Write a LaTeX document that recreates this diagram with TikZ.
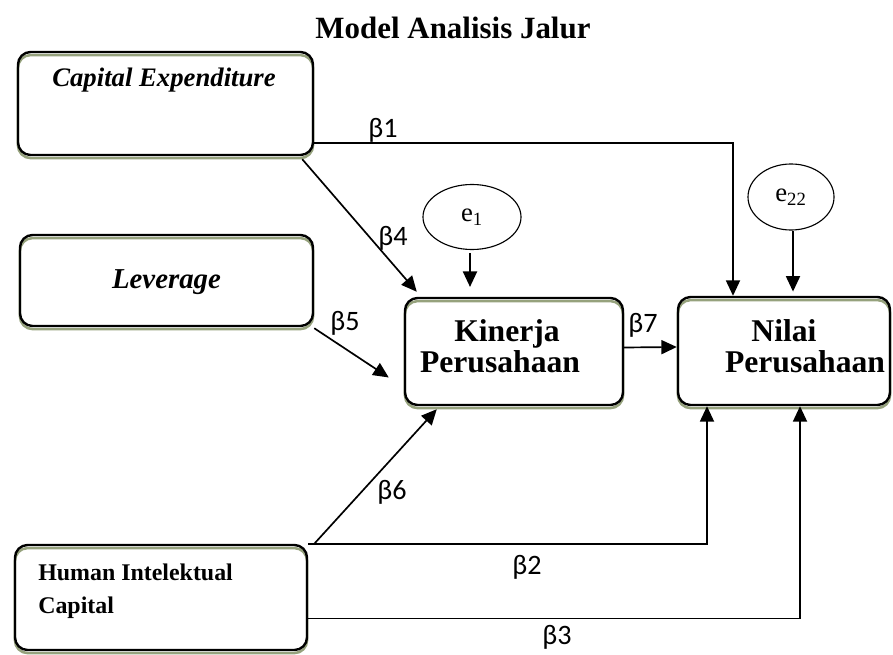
\documentclass[tikz,border=0pt]{standalone}
\usepackage{fontspec}
\setmainfont{Liberation Serif}
\newfontfamily\betafont{Carlito}
\usetikzlibrary{positioning,arrows.meta,shadows,calc,shapes.geometric}
\definecolor{boxshadow}{RGB}{150,162,125}

\begin{document}
\begin{tikzpicture}[x=0.025cm,y=-0.025cm,>={Triangle[length=11pt,width=10pt]}]
    \tikzstyle{varbox}=[draw, line width=1.7pt, rounded corners=9pt,
        general shadow={draw=boxshadow, line width=1.8pt, fill=none, shadow yshift=-2.2pt}]
    \tikzstyle{errnode}=[draw, ellipse, line width=0.8pt, inner sep=0pt, font=\fontsize{19}{20}\selectfont]
    \tikzstyle{link}=[line width=1.2pt, ->]
    \tikzstyle{coef}=[font=\betafont\fontsize{20}{22}\selectfont, inner sep=0pt]
    \tikzstyle{boxtext}=[font=\bfseries\fontsize{22}{22}\selectfont, inner sep=0pt, align=center]

    \useasboundingbox (0,0) rectangle (893,655);

    \node[boxtext] (title) at (453,28) {Model Analisis Jalur};

    % variables
    \node[varbox, minimum width=7.375cm, minimum height=2.575cm] (capex) at (165.5,103.5) {};
    \node[boxtext, font=\bfseries\itshape\fontsize{19}{23.5}\selectfont] (capextext) at (164,80) {Capital Expenditure};
    \node[varbox, minimum width=7.325cm, minimum height=2.275cm] (lev) at (166.5,280.5) {};
    \node[boxtext, font=\bfseries\itshape\fontsize{20.5}{23.5}\selectfont] (levtext) at (166.5,282) {Leverage};
    \node[varbox, minimum width=7.3cm, minimum height=2.625cm] (hic) at (161,597.5) {};
    \node[boxtext, anchor=west, align=left, font=\bfseries\fontsize{17}{23.5}\selectfont] (hictext) at (38,591) {Human Intelektual\\Capital};
    \node[varbox, minimum width=5.45cm, minimum height=2.675cm] (kin) at (514,351.5) {};
    \node[boxtext, font=\bfseries\fontsize{22.5}{22}\selectfont] (kintext) at (500,346) {\hspace*{0.35cm}Kinerja\\Perusahaan};
    \node[varbox, minimum width=5.3cm, minimum height=2.7cm] (nilai) at (784,351) {};
    \node[boxtext, font=\bfseries\fontsize{22.5}{22}\selectfont] (nilaitext) at (784,346) {Nilai\\\hspace*{1.05cm}Perusahaan};

    % error terms
    \node[errnode, minimum width=2.45cm, minimum height=1.625cm] (e1) at (472,217) {e\textsubscript{1}};
    \node[errnode, minimum width=2.15cm, minimum height=1.65cm] (e2) at (791,197) {e\textsubscript{22}};

    % paths
    \draw[link] ($(capex.south east)+(0,-13)$) -| ($(nilai.north)+(-51,0)$);
    \draw[link] ($(capex.south east)+(-12,3)$) -- ($(kin.north west)+(13,-5)$);
    \draw[link] ($(lev.south east)+(0,1)$) -- ($(kin.west)+(-15,26)$);
    \draw[link] ($(hic.north east)+(6,0)$) -- ($(kin.south west)+(33,3)$);
    \draw[link] (hic.north east) -| ($(nilai.south)+(-77,0)$);
    \draw[link] ($(hic.east)+(0,21)$) -| ($(nilai.south)+(16,0)$);
    \draw[link] ($(kin.east)+(0,-4)$) -- ($(nilai.west)+(0,-4)$);
    \draw[link, shorten >=7pt, shorten <=2pt] ($(e1.south)+(-2,0)$) -- ($(kin.north)+(-44,0)$);
    \draw[link, shorten >=3pt] ($(e2.south)+(2,0)$) -- ($(nilai.north)+(9,0)$);

    % coefficients
    \node[coef] (b1) at (383,130) {β1};
    \node[coef] (b4) at (393,238) {β4};
    \node[coef] (b5) at (345,323) {β5};
    \node[coef] (b6) at (392,492) {β6};
    \node[coef] (b7) at (643,325) {β7};
    \node[coef] (b2) at (527,567) {β2};
    \node[coef] (b3) at (557,637) {β3};
\end{tikzpicture}
\end{document}
